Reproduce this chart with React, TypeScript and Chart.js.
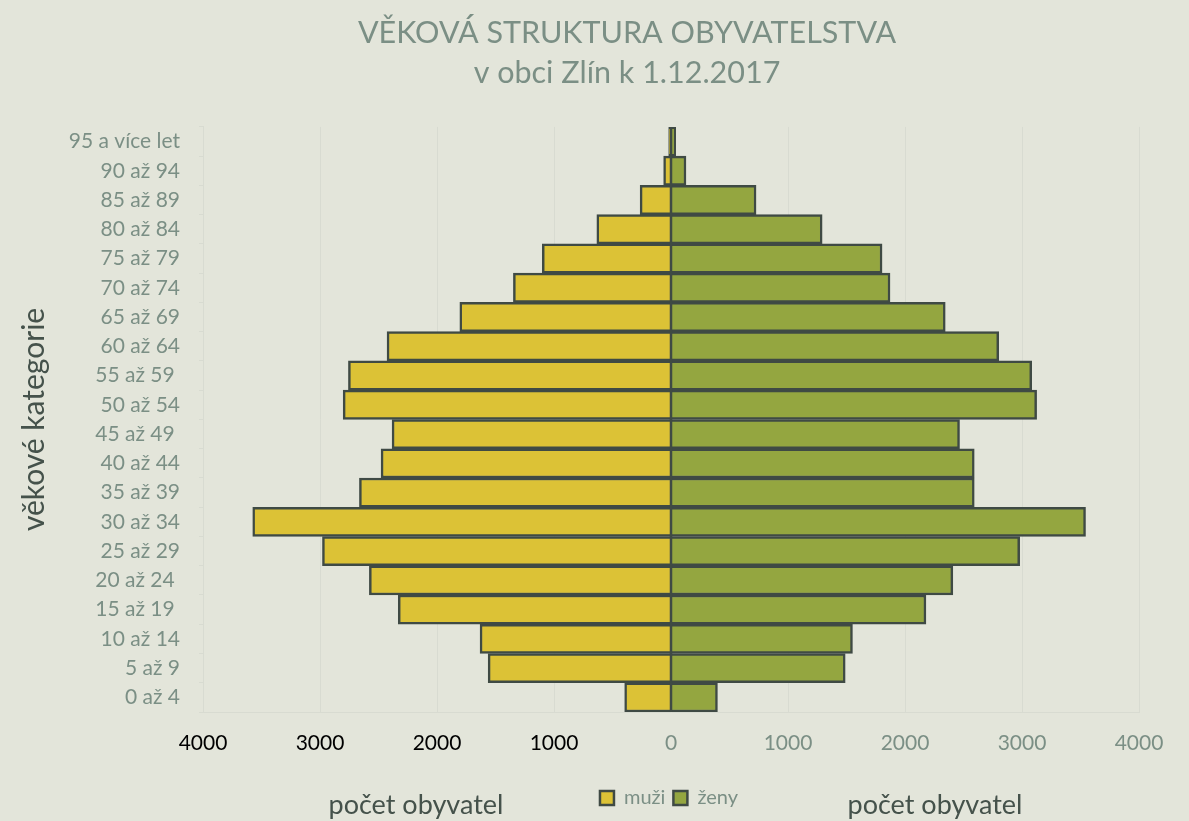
import React, { useEffect, useRef } from 'react';
import { Chart, registerables } from 'chart.js';

Chart.register(...registerables);

// ---- data ----
const categories = [
  '0 až 4', '5 až 9', '10 až 14', '15 až 19 ', '20 až 24 ', '25 až 29', '30 až 34',
  '35 až 39', '40 až 44', '45 až 49 ', '50 až 54', '55 až 59 ', '60 až 64', '65 až 69',
  '70 až 74', '75 až 79', '80 až 84', '85 až 89', '90 až 94', '95 a více let',
];
const muzi = [396, 1563, 1632, 2331, 2578, 2979, 3575, 2663, 2478, 2384, 2802, 2757, 2427, 1805, 1347, 1100, 634, 264, 63, 20];
const zeny = [397, 1489, 1551, 2179, 2409, 2980, 3543, 2592, 2592, 2466, 3125, 3083, 2801, 2344, 1872, 1804, 1292, 727, 128, 40];
const seriesNames = ['muži', 'ženy'];
const titleLines = ['VĚKOVÁ STRUKTURA OBYVATELSTVA', 'v obci Zlín k 1.12.2017'];
const yAxisTitle = 'věkové kategorie';
const xAxisTitle = 'počet obyvatel';
const xMin = -4000;
const xMax = 4000;
const xStep = 1000;

// ---- styles ----
const BG = '#E3E5DA';
const MEN = '#DCC236';
const WOMEN = '#94A640';
const EDGE = '#3F4A44';
const SOFT = '#7B8F85';
const DARK = '#45524B';
const GRID = '#D8DBD1';
const FONT = 'Lato, "Open Sans", sans-serif';

export default function App() {
  const ref = useRef<HTMLCanvasElement | null>(null);

  useEffect(() => {
    document.body.style.margin = '0';
    document.body.style.background = BG;
    const canvas = ref.current;
    if (!canvas) return;

    const bgPlugin = {
      id: 'bg',
      beforeDraw(chart: any) {
        const c = chart.ctx;
        c.save();
        c.fillStyle = BG;
        c.fillRect(0, 0, chart.width, chart.height);
        c.restore();
      },
    };

    const shiftPlugin = {
      id: 'shift',
      afterLayout(chart: any) {
        const t = chart.titleBlock;
        if (t) {
          const s = 627 - (t.left + t.right) / 2;
          t.left += s;
          t.right += s;
        }
        const l = chart.legend;
        if (l) {
          const s = 669 - (l.left + l.right) / 2;
          l.left += s;
          l.right += s;
        }
      },
    };

    const zeroLine = {
      id: 'zeroLine',
      afterDatasetsDraw(chart: any) {
        const c = chart.ctx;
        const x = chart.scales.x.getPixelForValue(0);
        const { top, bottom } = chart.chartArea;
        c.save();
        c.strokeStyle = EDGE;
        c.lineWidth = 2.5;
        c.beginPath();
        c.moveTo(x, top);
        c.lineTo(x, bottom);
        c.stroke();
        c.restore();
      },
    };

    const bottomTitles = {
      id: 'bottomTitles',
      afterDraw(chart: any) {
        const c = chart.ctx;
        c.save();
        c.font = `27px ${FONT}`;
        c.fillStyle = DARK;
        c.textAlign = 'center';
        c.textBaseline = 'middle';
        c.fillText(xAxisTitle, 416, 805);
        c.fillText(xAxisTitle, 935, 805);
        c.restore();
      },
    };

    const chart = new Chart(canvas, {
      type: 'bar',
      data: {
        labels: categories,
        datasets: [
          {
            label: seriesNames[0],
            data: muzi.map((v) => -v),
            backgroundColor: MEN,
            borderColor: EDGE,
            borderWidth: 2.5,
            borderSkipped: 'start',
            barPercentage: 1,
            categoryPercentage: 1,
          },
          {
            label: seriesNames[1],
            data: zeny,
            backgroundColor: WOMEN,
            borderColor: EDGE,
            borderWidth: 2.5,
            borderSkipped: 'start',
            barPercentage: 1,
            categoryPercentage: 1,
          },
        ],
      },
      options: {
        indexAxis: 'y',
        responsive: false,
        animation: false,
        layout: { padding: { left: 0, right: 50, top: 0, bottom: 3 } },
        plugins: {
          title: {
            display: true,
            text: titleLines,
            color: SOFT,
            font: { family: FONT, size: 30.5, weight: 'normal', lineHeight: 1.31 },
            padding: { top: 13, bottom: 34 },
          },
          legend: {
            display: true,
            position: 'bottom',
            labels: {
              color: SOFT,
              font: { family: FONT, size: 20 },
              boxWidth: 14,
              boxHeight: 14,
              padding: 8,
            },
          },
          tooltip: { enabled: false },
        },
        scales: {
          x: {
            stacked: true,
            min: xMin,
            max: xMax,
            ticks: {
              stepSize: xStep,
              padding: 19,
              font: { family: FONT, size: 21 },
              color: (ctx: any) => (ctx.tick && ctx.tick.value < 0 ? '#000000' : SOFT),
              callback: (v: any) => String(Math.abs(Number(v))),
            },
            grid: { color: GRID, drawTicks: false, lineWidth: 1 },
            border: { display: true, color: GRID },
            afterFit(scale: any) {
              scale.height = 68;
            },
          },
          y: {
            stacked: true,
            reverse: true,
            ticks: {
              padding: 19,
              font: { family: FONT, size: 21 },
              color: SOFT,
              autoSkip: false,
            },
            grid: { drawOnChartArea: false, drawTicks: true, tickLength: 4, color: GRID },
            border: { display: true, color: GRID },
            title: {
              display: true,
              text: yAxisTitle,
              color: DARK,
              font: { family: FONT, size: 30 },
              padding: { top: 16, bottom: 0 },
            },
            afterFit(scale: any) {
              scale.width = 203;
            },
          },
        },
      },
      plugins: [bgPlugin, shiftPlugin, zeroLine, bottomTitles],
    } as any);

    return () => chart.destroy();
  }, []);

  return (
    <div style={{ position: 'fixed', left: 0, top: 0, width: 1189, height: 821, background: BG }}>
      <canvas ref={ref} width={1189} height={821} style={{ display: 'block' }} />
    </div>
  );
}
